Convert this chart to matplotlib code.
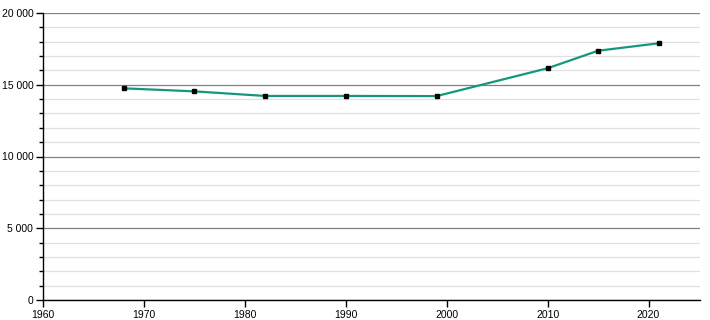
import matplotlib
matplotlib.use("Agg")
import matplotlib.pyplot as plt
from matplotlib.ticker import MultipleLocator, FuncFormatter

years = [1968, 1975, 1982, 1990, 1999, 2010, 2015, 2021]
population = [14750, 14540, 14220, 14220, 14210, 16150, 17370, 17890]

plt.rcParams['font.family'] = ['Liberation Sans', 'DejaVu Sans']

fig = plt.figure(figsize=(7.1, 3.2), dpi=100)
ax = fig.add_axes([43/710, 20/320, 657/710, 287/320])

ax.plot(years, population, color='#15977a', lw=1.6, zorder=3)
ax.plot(years, population, 's', color='black', ms=3.4, zorder=4)

ax.set_xlim(1960, 2025.1)
ax.set_ylim(0, 20000)
ax.xaxis.set_major_locator(MultipleLocator(10))
ax.yaxis.set_major_locator(MultipleLocator(5000))
ax.yaxis.set_minor_locator(MultipleLocator(1000))
ax.yaxis.set_major_formatter(FuncFormatter(lambda v, p: f"{int(v):,}".replace(",", " ")))

ax.grid(axis='y', which='major', color='#808080', lw=0.9, zorder=1)
ax.grid(axis='y', which='minor', color='#e0e0e0', lw=0.9, zorder=1)

for s in ['top', 'right']:
    ax.spines[s].set_visible(False)
for s in ['left', 'bottom']:
    ax.spines[s].set_linewidth(1.0)

ax.tick_params(axis='both', which='major', length=5, width=1, labelsize=7.5, pad=2)
ax.tick_params(axis='y', which='minor', length=3, width=1)

fig.savefig('out.png', dpi=100)
